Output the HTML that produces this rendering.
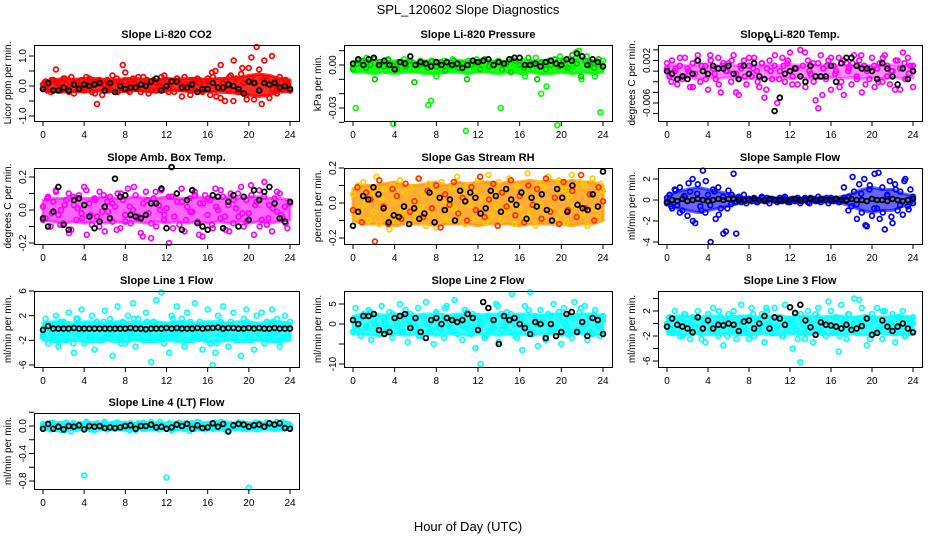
<!DOCTYPE html>
<html><head><meta charset="utf-8"><style>
html,body{margin:0;padding:0;background:#fff;}
svg{display:block;font-family:"Liberation Sans",sans-serif;}
</style></head><body>
<svg id="chart" width="936" height="540" viewBox="0 0 936 540">
<rect width="936" height="540" fill="#fff"/>
<text x="468" y="14" text-anchor="middle" font-size="13">SPL_120602  Slope Diagnostics</text>
<text x="468" y="531" text-anchor="middle" font-size="13">Hour of Day (UTC)</text>
</svg>
<script>
const xTicks = [0,4,8,12,16,20,24];
const co2Unit = 0.01;
const co2C1 = [-10,15,5,-20,20,55,10,-15,25,5,-10,30,-25,10,-5,20,-15,5,25,-20,10,-60,15,-30,5,20,-10,35,15,-20,10,70,45,-15,5,25,-10,15,-20,30,5,-25,10,20,-15,5,30,-10,20,-5,15,-20,25,10,-35,30,-10,5,20,-15,25,10,-20,5,15,-30,30,50,-5,-40,10,20,-15,35,-50,25,-20,40,10,-30,60,95,-45,130,55,-60,85,20,-40,100,15,-25,30,-10,20,5,-15];
const co2C2 = [5,-15,20,10,-5,25,-20,15,0,-10,30,10,-25,20,5,-15,10,25,-5,15,-20,5,30,-10,20,-15,10,0,35,-20,15,25,-10,5,-30,20,10,-15,25,45,-35,70,-50,30,85,-20,60,-45,25,10,-15,20,5,-10,15,-5,20,-15];
const co2K = [-10,10,-15,-15,-5,-15,5,-10,5,0,5,10,-15,10,-20,0,-10,-5,-5,5,0,15,25,-15,0,15,15,-5,-5,5,-20,-10,-10,10,-5,-5,5,0,-10,-25,15,10,-15,10,5,10,-5,0,-10];
const co2Lo = [-15,-18,-20,-18,-20,-18,-15,-20,-18,-15,-18,-20,-18,-15,-18,-20,-18,-20,-22,-25,-30,-35,-30,-20,-18];
const co2Hi = [15,20,25,22,25,25,22,20,25,25,22,20,25,22,25,25,22,25,25,28,35,40,35,25,20];
const presUnit = 0.001;
const presC1 = [-2,-30,3,-1,2,5,-3,1,4,-2,0,2,-4,3,1,-41,-2,2,-1,4,0,-3,2,1,-2,3,0,-1,-28,-25,2,-8,1,-3,3,0,-2,4,-1,2,-3,0,-46,3,1,-2,4,-1,0,3,-2,2,-4,1,3,-30,0,-3,2,4,-1,1,-2,3,-8,0,2,-3,5,-1,-20,2,-15,3,0,-2,-42,6,2,-1,4,-3,1,9,10,-10,3,6,-1,2,-8,0,-33,3];
const presC2 = [-3,1,3,-2,0,-10,2,-1,4,0,-3,2,-1,3,-12,0,1,-2,3,-1,2,-4,0,3,-2,1,-10,0,2,-3,4,-1,0,2,-3,1,-5,3,0,-2,5,1,-10,2,-3,0,4,-1,3,-2,7,1,-8,3,0,-2,4,-1];
const presK = [1,4,0,4,5,0,3,0,-3,2,1,6,0,2,1,-1,2,0,2,0,1,-2,0,3,2,3,4,0,2,1,4,5,5,0,0,1,-1,2,3,1,0,4,3,8,6,0,4,2,-1];
const presLo = [-5,-5,-6,-5,-6,-5,-5,-6,-6,-5,-5,-6,-5,-5,-6,-5,-6,-5,-6,-6,-5,-6,-5,-6,-5];
const presHi = [2,3,3,2,3,3,2,3,3,2,3,3,2,3,2,3,3,2,3,3,3,4,5,3,2];
const tempUnit = 0.0001;
const tempC1 = [5,-10,20,0,-25,10,-15,25,5,-30,15,-5,30,-20,0,10,-35,20,5,-15,25,-40,10,0,15,-20,30,-5,-45,5,20,-25,10,-10,25,0,-30,15,-50,5,20,-15,10,-60,0,25,-20,15,35,-10,5,-25,40,10,-30,20,-5,15,-55,-70,30,5,-15,20,-35,10,0,25,-20,-45,15,5,-25,30,-10,20,-40,10,0,-15,25,-30,5,15,-20,30,10,-25,0,-35,20,5,35,-15,25,10,-30];
const tempC2 = [15,-20,5,25,-10,0,-30,20,10,-15,30,-5,-25,15,0,20,-40,10,-10,25,5,-20,15,-35,0,30,-15,10,20,-25,5,-10,35,0,-20,15,-45,10,25,-5,-30,20,0,15,-15,30,-25,5,10,-20,25,-10,0,20,-35,15,-5,10];
const tempK = [0,-5,-15,-10,-15,-5,20,0,-5,10,5,5,10,-5,-15,10,-5,15,-10,-15,60,-75,-50,-5,0,5,-10,-20,10,-10,-10,-10,10,-20,15,25,25,10,5,5,0,-15,15,5,-10,-25,5,-15,0];
const tempLo = [-12,-14,-12,-15,-12,-14,-12,-15,-14,-12,-15,-12,-14,-12,-15,-14,-12,-14,-12,-15,-12,-14,-12,-14,-12];
const tempHi = [10,12,10,12,10,11,12,10,12,10,12,10,12,11,10,12,10,12,10,12,10,11,12,10,10];
const ambUnit = 0.01;
const ambC1 = [2,-5,8,-10,5,12,-3,0,-8,6,10,-12,3,-6,9,-2,14,-15,4,-9,7,-4,11,-1,-13,5,8,-7,2,10,-11,6,-3,13,-8,0,9,-5,-14,4,11,-2,-17,7,-10,3,12,-6,1,-20,8,-4,10,-9,5,-13,2,7,-1,11,-7,4,-16,9,-3,6,-11,13,0,-5,8,-12,3,10,-8,1,-4,14,-10,6,-2,9,-15,5,12,-6,17,-9,3,-13,7,-1,10,-5,2,-11,4];
const ambC2 = [-6,7,-2,11,-9,3,-14,8,1,-5,12,-3,6,-10,9,-1,4,-12,10,-7,2,14,-4,-16,6,-8,11,0,-3,8,-11,5,13,-6,-1,9,-15,4,7,-9,2,12,-4,-13,6,10,-2,-7,15,3,-10,8,-5,1,11,-3,-8,5];
const ambK = [-5,-10,-1,14,-9,-12,6,7,3,-4,-11,-7,2,-5,19,8,9,-3,-4,-5,-3,4,4,13,-11,26,10,-12,6,12,-8,-10,-12,9,8,-11,5,9,-10,8,-6,12,6,11,14,4,-5,-7,5];
const ambLo = [-6,-7,-8,-7,-8,-7,-8,-7,-8,-7,-8,-7,-8,-7,-8,-7,-8,-7,-8,-7,-8,-7,-8,-7,-6];
const ambHi = [6,7,7,8,7,7,8,7,7,8,7,7,8,7,7,8,7,7,8,7,8,8,7,7,6];
const rhUnit = 0.01;
const rhC1 = [5,-8,10,-3,12,0,-10,7,-5,15,-12,3,8,-6,-15,10,2,-9,13,-4,6,-11,9,0,-7,14,-2,5,-13,11,-5,8,-14,3,12,-8,1,-10,9,-3,15,-6,4,-12,10,-1,7,-9,13,-4,2,-11,16,-7,5,-2,12,-10,8,-5,14,0,-12,10,-3,6,-8,17,-6,3,-13,11,-1,9,-7,15,-4,2,-10,13,-5,8,-11,4,16,-2,-8,12,-6,10,-13,5,14,-3,-9,11,7];
const rhC2 = [-4,9,-11,6,2,-22,13,-2,-12,8,4,-9,11,-5,1,14,-8,7,-3,10,-14,5,-1,12,-6,3,-10,9,-4,15,-8,2,11,-13,6,-2,13,-7,4,-11,10,-1,8,-9,14,-5,3,-12,12,-4,7,-8,16,-3,5,-10,9,1];
const rhK = [-13,-5,4,2,9,5,-3,-11,-7,-8,-2,-12,-3,-9,-6,6,-11,3,-4,2,-10,7,1,6,3,-6,-3,7,4,-5,8,2,-1,6,-9,3,-2,5,-4,-10,8,3,-5,10,-1,-3,-4,5,-2,18];
const rhLo = [-10,-12,-12,-12,-13,-12,-12,-12,-13,-12,-12,-12,-13,-12,-12,-12,-13,-12,-12,-12,-12,-13,-12,-12,-10];
const rhHi = [8,10,10,11,12,10,10,11,12,10,12,11,12,12,11,12,12,13,12,13,12,13,12,12,10];
const flowUnit = 0.1;
const flowC1 = [-3,5,-8,10,-5,12,-10,3,-15,8,20,-22,15,-6,28,-12,5,-40,10,-18,12,-8,-32,-30,9,-4,25,-32,3,-2,5,-3,1,-1,2,-2,0,3,-1,2,-3,1,0,-2,2,-1,3,0,-2,1,-1,2,-3,0,1,-2,2,0,-1,3,-2,1,0,-3,2,-1,1,-2,0,2,-1,3,-6,8,-4,15,-12,20,-25,10,-15,25,-8,-18,12,-28,5,18,-22,15,-10,8,-14,20,-6,10,-3];
const flowC2 = [2,-6,9,-12,4,16,-20,6,-10,18,-5,8,-14,3,-8,5,-2,2,-1,1,0,-2,2,-1,1,0,-1,2,-2,1,0,-1,2,-3,1,-1,0,2,-1,1,-2,12,-10,22,-18,6,-24,14,-8,26,-12,4,-16,10,-5,18,-9,3];
const flowK = [-2,0,-1,1,-1,0,1,0,-1,0,1,0,1,1,0,0,0,1,0,0,1,0,0,0,0,1,0,0,1,0,1,0,0,1,0,0,1,0,0,-1,1,0,0,-1,1,0,-1,0,1];
const flowLo = [-4,-8,-10,-12,-10,-8,-6,-3,-2,-2,-2,-2,-2,-2,-2,-2,-2,-3,-6,-10,-12,-10,-10,-6,-4];
const flowHi = [4,8,10,12,10,8,6,3,2,2,2,2,2,2,2,2,2,3,6,10,12,10,10,6,4];
const l1Unit = 0.1;
const l1C1 = [-10,15,-25,5,-15,20,-30,0,10,-20,25,-5,-40,15,-10,30,-25,5,-15,20,-35,10,0,-20,28,-10,15,-45,5,35,-15,10,-25,20,-5,40,-30,15,0,-20,25,-10,-55,10,45,-15,58,-25,5,-40,20,-10,35,-5,15,-30,25,0,-20,40,-15,10,-35,5,30,-25,-60,-40,20,-10,35,-5,-30,10,25,-20,0,-45,15,30,-15,5,-35,20,-10,25,-25,10,-5,30,-20,15,-30,5,20,-15,10];
const l1C2 = [-15,5,-5,-20,10,-10,0,-25,15,-5,5,-15,0,-20,10,-10,-5,5,-25,0,-10,15,-15,-5,10,-20,0,5,-10,-15,15,-5,0,-20,10,-10,5,-15,-5,0,-25,10,-10,5,-15,0,-5,10,-20,5,-10,0,-15,10,-5,-20,5,0];
const l1K = [-3,3,-1,-1,-1,-1,0,-1,-1,-1,-1,-1,-1,-1,-1,-1,-1,0,-1,-1,-2,-1,-1,-1,0,-1,0,-1,-1,-1,0,-1,0,0,1,-1,0,0,-1,-1,0,-1,0,-1,-1,0,-1,-1,-1];
const l1Lo = [-20,-22,-22,-20,-22,-22,-20,-22,-22,-20,-22,-22,-20,-22,-22,-20,-22,-22,-20,-22,-22,-20,-22,-22,-20];
const l1Hi = [8,10,10,8,10,10,8,10,10,8,10,10,8,10,10,8,10,10,8,10,10,8,10,10,8];
const l2Unit = 0.1;
const l2C1 = [-20,40,10,-30,25,-10,35,-40,5,20,-25,45,0,-15,30,-35,15,-5,50,-20,10,-45,25,0,-10,40,-30,15,55,-20,5,-50,30,-10,20,-35,45,-5,10,60,-25,15,-40,35,0,-15,25,-60,20,-100,10,-30,40,-15,5,50,-45,25,-5,30,-20,75,0,-35,15,-65,45,-10,80,-25,20,-55,35,5,-40,25,-15,50,-30,10,-50,40,-5,20,-35,55,-20,30,-10,45,-40,15,-25,35,0,-30,20];
const l2C2 = [10,-15,20,-5,30,0,-25,15,-10,25,5,-20,35,-5,10,-30,20,0,-15,25,-10,40,5,-20,15,-5,30,-25,10,0,-35,20,-10,45,-15,5,25,-30,10,-5,35,-20,0,15,-40,20,-10,30,5,-25,15,-15,40,0,-20,25,-5,10];
const l2K = [10,0,20,20,25,-15,-25,-20,15,20,25,-10,15,-20,-35,10,15,0,15,10,5,10,25,15,-15,55,40,10,-50,20,10,15,0,-10,-25,5,0,-35,0,-30,-20,25,30,-20,5,-30,15,10,-25];
const l2Lo = [-25,-25,-28,-25,-25,-28,-25,-25,-28,-25,-25,-28,-25,-25,-28,-25,-25,-28,-25,-25,-28,-25,-25,-28,-25];
const l2Hi = [20,25,25,22,25,25,22,25,25,22,25,25,22,25,25,22,25,25,22,25,25,22,25,25,20];
const l3Unit = 0.1;
const l3C1 = [-5,10,-15,20,-10,5,-20,15,0,-25,10,-5,20,-15,5,-30,15,-10,25,0,-20,10,-35,5,15,-10,20,-25,0,30,-5,-15,10,25,-20,5,-10,15,-30,20,0,-15,25,-5,10,-20,30,-10,5,-40,15,-25,-62,0,-15,20,-5,-30,15,25,-10,5,-20,35,-5,-15,10,-45,30,0,-25,15,-10,40,5,38,25,-5,-35,10,15,-15,25,-5,-25,20,0,-10,15,-30,10,-5,20,-20,5,-15,10];
const l3C2 = [0,-10,5,-20,15,-5,-15,10,-25,5,0,-10,20,-5,-20,10,0,-15,5,-25,15,-10,0,25,-5,-15,10,-20,5,0,-10,15,-25,5,-5,10,-15,0,20,-10,-20,5,15,-5,-15,0,10,-25,5,-10,20,-5,0,-15,10,-20,5,0];
const l3K = [-5,8,-2,-5,-8,-14,10,-8,5,-8,-2,-3,0,-2,-12,3,5,-8,0,12,-8,10,8,-2,26,17,30,5,-6,-18,2,-2,-3,-5,-8,-2,-10,-8,-4,8,-18,-15,5,-5,-12,-5,0,-8,-14];
const l3Lo = [-16,-18,-18,-16,-18,-18,-16,-18,-18,-16,-18,-18,-16,-18,-18,-16,-18,-18,-16,-18,-18,-16,-18,-18,-16];
const l3Hi = [10,12,12,10,12,12,10,12,12,10,12,12,10,12,12,10,12,12,10,12,12,10,12,12,10];
const l4Unit = 0.01;
const l4C1 = [0,-3,2,-5,4,-1,3,-6,1,5,-2,-8,2,-4,3,0,-72,5,-3,1,-6,4,0,-2,6,-5,1,3,-4,5,-1,-3,2,-5,4,0,-6,3,-2,5,-4,1,6,-3,0,-5,2,-1,-75,4,-6,3,-2,5,0,-4,2,-7,4,-1,6,-3,0,-5,3,2,-4,5,1,-2,1,4,-6,3,0,-3,5,-1,-4,2,-90,-2,0,-5,4,1,-3,5,-1,3,-4,2,0,6,-2,3,-1];
const l4C2 = [3,-2,5,-4,1,-6,2,4,-3,0,6,-5,2,-1,4,-3,0,5,-2,3,-6,1,4,-4,2,0,-3,6,-1,3,-5,2,0,4,-2,-4,5,1,-3,3,-1,6,-5,2,0,-2,4,-4,1,5,-3,2,0,-1,6,-2,3,1];
const l4K = [-4,3,-4,-1,-5,0,-1,1,-5,0,-1,0,-3,-2,-3,-2,0,1,-4,0,0,2,-2,-1,-4,-2,2,0,3,-4,1,-3,-2,4,-1,3,-8,1,3,2,-1,1,2,-1,4,2,4,-3,-4];
const l4Lo = [-5,-5,-6,-5,-5,-6,-5,-5,-6,-5,-5,-6,-5,-5,-6,-5,-5,-6,-5,-5,-6,-5,-5,-6,-5];
const l4Hi = [4,5,5,4,5,5,4,5,5,4,5,5,4,5,5,4,5,5,4,5,5,4,5,6,5];

const co2Ticks=[-1,-0.5,0,0.5,1], co2Labels=["-1.0","","0.0","","1.0"];
const presTicks=[0.01,0,-0.01,-0.02,-0.03,-0.04], presLabels=["","0.00","","","-0.03",""];
const tempTicks=[0.004,0.002,0,-0.002,-0.004,-0.006,-0.008], tempLabels=["","0.002","","","","-0.006",""];
const ambTicks=[0.2,0.1,0,-0.1,-0.2], ambLabels=["0.2","","0.0","","-0.2"];
const rhTicks=[0.2,0.1,0,-0.1,-0.2], rhLabels=["0.2","","0.0","","-0.2"];
const flowTicks=[2,0,-2,-4], flowLabels=["2","0","-2","-4"];
const l1Ticks=[6,2,-2,-6], l1Labels=["6","2","-2","-6"];
const l2Ticks=[5,0,-5,-10], l2Labels=["5","0","","-10"];
const l3Ticks=[4,2,0,-2,-4,-6], l3Labels=["","2","","-2","","-6"];
const l4Ticks=[0.2,0,-0.2,-0.4,-0.6,-0.8], l4Labels=["","0.0","","-0.4","","-0.8"];

const svg=document.getElementById('chart');
const NS='http://www.w3.org/2000/svg';
function mk(tag,attrs,parent){const e=document.createElementNS(NS,tag);for(const k in attrs)e.setAttribute(k,attrs[k]);(parent||svg).appendChild(e);return e;}

const colL=[34,344,658], colR=[299,612,922], rowT=[45,168,291,413], H=76;
const panels=[
 {id:'co2',title:'Slope Li-820 CO2',ylab:'Licor ppm per min.',r:0,c:0,u:co2Unit,c1:co2C1,c2:co2C2,k:co2K,lo:co2Lo,hi:co2Hi,op:0.85,col1:'#ff0000',col2:'#ff0000',v1:1,p1:56,v2:-1,p2:116,ticks:co2Ticks,labels:co2Labels},
 {id:'pressure',title:'Slope Li-820 Pressure',ylab:'kPa per min.',r:0,c:1,u:presUnit,c1:presC1,c2:presC2,k:presK,lo:presLo,hi:presHi,op:0.85,col1:'#00ff00',col2:'#00cc00',v1:0,p1:65,v2:-0.03,p2:108,ticks:presTicks,labels:presLabels},
 {id:'li820-temp',title:'Slope Li-820 Temp.',ylab:'degrees C per min.',r:0,c:2,u:tempUnit,c1:tempC1,c2:tempC2,k:tempK,lo:tempLo,hi:tempHi,op:0.45,col1:'#ff00ff',col2:'#ff00ff',v1:0.002,p1:60.5,v2:-0.006,p2:103,ticks:tempTicks,labels:tempLabels},
 {id:'amb-box-temp',title:'Slope Amb. Box Temp.',ylab:'degrees C per min.',r:1,c:0,u:ambUnit,c1:ambC1,c2:ambC2,k:ambK,lo:ambLo,hi:ambHi,op:0.6,col1:'#ff00ff',col2:'#ff00ff',v1:0,p1:210,v2:0.2,p2:177,ticks:ambTicks,labels:ambLabels},
 {id:'gas-stream-rh',title:'Slope Gas Stream RH',ylab:'percent per min.',r:1,c:1,u:rhUnit,c1:rhC1,c2:rhC2,k:rhK,lo:rhLo,hi:rhHi,op:0.8,col1:'#ffcc00',col2:'#ff3000',band:'#ff9900',v1:0,p1:203,v2:0.2,p2:168,ticks:rhTicks,labels:rhLabels},
 {id:'sample-flow',title:'Slope Sample Flow',ylab:'ml/min per min.',r:1,c:2,u:flowUnit,c1:flowC1,c2:flowC2,k:flowK,lo:flowLo,hi:flowHi,op:0.6,col1:'#0000ff',col2:'#0000ff',v1:0,p1:200,v2:2,p2:179,ticks:flowTicks,labels:flowLabels},
 {id:'line1-flow',title:'Slope Line 1 Flow',ylab:'ml/min per min.',r:2,c:0,u:l1Unit,c1:l1C1,c2:l1C2,k:l1K,lo:l1Lo,hi:l1Hi,op:0.85,col1:'#00ffff',col2:'#00ffff',v1:6,p1:291,v2:-6,p2:365,ticks:l1Ticks,labels:l1Labels},
 {id:'line2-flow',title:'Slope Line 2 Flow',ylab:'ml/min per min.',r:2,c:1,u:l2Unit,c1:l2C1,c2:l2C2,k:l2K,lo:l2Lo,hi:l2Hi,op:0.8,col1:'#00ffff',col2:'#00ffff',v1:0,p1:324,v2:-10,p2:364,ticks:l2Ticks,labels:l2Labels},
 {id:'line3-flow',title:'Slope Line 3 Flow',ylab:'ml/min per min.',r:2,c:2,u:l3Unit,c1:l3C1,c2:l3C2,k:l3K,lo:l3Lo,hi:l3Hi,op:0.8,col1:'#00ffff',col2:'#00ffff',v1:2,p1:311,v2:-6,p2:361,ticks:l3Ticks,labels:l3Labels},
 {id:'line4-flow',title:'Slope Line 4 (LT) Flow',ylab:'ml/min per min.',r:3,c:0,u:l4Unit,c1:l4C1,c2:l4C2,k:l4K,lo:l4Lo,hi:l4Hi,op:0.95,col1:'#00ffff',col2:'#00ffff',v1:0,p1:426,v2:-0.8,p2:481,ticks:l4Ticks,labels:l4Labels}
];

panels.forEach(p=>{
  const L=colL[p.c], R=colR[p.c], T=rowT[p.r], B=T+H;
  const x0=L+9, x1=R-9;
  const xs=h=>x0+(x1-x0)*h/24;
  const ys=v=>p.p1+(v-p.v1)*(p.p2-p.p1)/(p.v2-p.v1);
  const g=mk('g',{});
  
  
  const t=mk('text',{x:(L+R)/2,y:T-7,'text-anchor':'middle','font-size':11,'font-weight':'bold'},g);
  t.textContent=p.title;
  
  
  const yl=mk('text',{x:0,y:0,'text-anchor':'middle','font-size':10,transform:`translate(${L-23},${T+H/2}) rotate(-90)`},g);
  yl.textContent=p.ylab;
  
  
  // dense point cloud envelope
  const up=p.hi.map((v,i)=>xs(i*24/(p.hi.length-1)).toFixed(1)+','+ys(v*p.u).toFixed(1));
  const dn=p.lo.map((v,i)=>xs(i*24/(p.lo.length-1)).toFixed(1)+','+ys(v*p.u).toFixed(1)).reverse();
  const band=mk('polygon',{points:up.concat(dn).join(' '),fill:p.band||p.col1,'fill-opacity':p.op,stroke:p.band||p.col1,'stroke-width':3,'stroke-opacity':p.op,'stroke-linejoin':'round'},g);
  
  
  const pts=mk('g',{},g);
  
  
  const draw=(arr,color,w)=>{
    arr.forEach((v,i)=>{
      const c=mk('circle',{cx:xs(i*24/(arr.length-1)).toFixed(1),cy:ys(v*p.u).toFixed(1),r:2.4,fill:'none',stroke:color,'stroke-width':w},pts);
      
      
    });
  };
  draw(p.c1,p.col1,1.7);
  draw(p.c2,p.col2,1.7);
  draw(p.k,'#000',1.8);
  const box=mk('rect',{x:L+0.5,y:T+0.5,width:R-L,height:H,fill:'none',stroke:'#000','stroke-width':1},g);
  
  
  const xa=mk('g',{},g);
  
  
  xTicks.forEach(h=>{
    const x=xs(h);
    mk('line',{x1:x,x2:x,y1:B,y2:B+5,stroke:'#000'},xa);
    const tl=mk('text',{x:x,y:B+17,'text-anchor':'middle','font-size':10},xa);
    tl.textContent=h;
  });
  const ya=mk('g',{},g);
  
  
  p.ticks.forEach((v,i)=>{
    const y=ys(v);
    mk('line',{x1:L-5,x2:L,y1:y,y2:y,stroke:'#000'},ya);
    if(p.labels[i]){
      const tl=mk('text',{x:0,y:0,'text-anchor':'middle','font-size':10,transform:`translate(${L-8},${y}) rotate(-90)`},ya);
      tl.textContent=p.labels[i];
    }
  });
});
</script>
</body></html>
